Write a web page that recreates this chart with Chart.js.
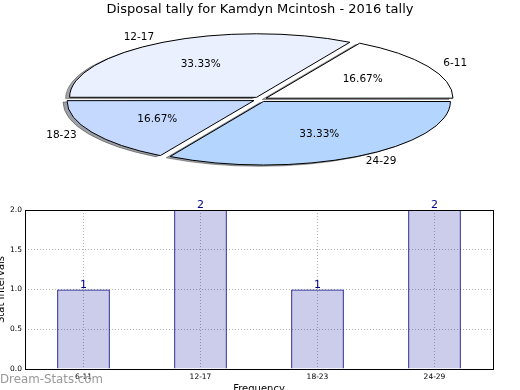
<!DOCTYPE html>
<html>
<head>
<meta charset="utf-8">
<script src="https://cdn.jsdelivr.net/npm/chart.js@4"></script>
<style>
  html, body { margin: 0; padding: 0; background: #fff; }
  body { width: 520px; height: 390px; position: relative; overflow: hidden; }
  #pieChart { position: absolute; left: 0; top: 0; }
  #barChart { position: absolute; left: -10px; top: 195px; }
  #mark { position: absolute; left: 0; top: 372px; font: 11.8px 'DejaVu Sans'; color: #999; }
</style>
</head>
<body>
<canvas id="pieChart" width="520" height="390"></canvas>
<canvas id="barChart" width="530" height="200"></canvas>
<div id="mark">Dream-Stats.com</div>
<script>
const titleText = 'Disposal tally for Kamdyn Mcintosh - 2016 tally';
const categories = ['6-11', '12-17', '18-23', '24-29'];
const tally = [1, 2, 1, 2];
const sliceColors = ['#ffffff', '#eaf0fe', '#c5d9fe', '#b4d5fe'];
const yTicks = [0, 0.5, 1, 1.5, 2];

const TILT = 0.34;
Chart.defaults.font.family = 'DejaVu Sans';
Chart.defaults.color = '#000';

// chart.js goes clockwise, matplotlib counter-clockwise -> reverse the order
const pieLabels = categories.slice().reverse();
const pieValues = tally.slice().reverse();
const pieColors = sliceColors.slice().reverse();
const total = tally.reduce((a, b) => a + b, 0);

function tilt(ctx, arc) {
  ctx.translate(arc.x, arc.y);
  ctx.scale(1, TILT);
  ctx.translate(-arc.x, -arc.y);
}

const ellipsePie = {
  id: 'ellipsePie',
  beforeDatasetsDraw(chart) {
    const ctx = chart.ctx;
    const arcs = chart.getDatasetMeta(0).data;
    // shadow pass
    ctx.save();
    ctx.translate(-4, 1.3);
    tilt(ctx, arcs[0]);
    ctx.filter = 'brightness(0.3) opacity(0.5)';
    arcs.forEach(a => a.draw(ctx));
    ctx.restore();
    // squash the real pie, keep stroke width unscaled
    ctx.save();
    tilt(ctx, arcs[0]);
    const orig = CanvasRenderingContext2D.prototype.stroke;
    ctx.stroke = function () {
      this.save();
      this.setTransform(1, 0, 0, 1, 0, 0);
      orig.call(this);
      this.restore();
    };
  },
  afterDatasetsDraw(chart) {
    const ctx = chart.ctx;
    delete ctx.stroke;
    ctx.restore();
    const meta = chart.getDatasetMeta(0);
    ctx.save();
    ctx.font = '10.5px DejaVu Sans';
    ctx.fillStyle = '#000';
    ctx.textBaseline = 'middle';
    meta.data.forEach((arc, i) => {
      const mid = (arc.startAngle + arc.endAngle) / 2;
      const d = arc.options.offset / 4;
      const r = arc.outerRadius;
      const px = f => arc.x + Math.cos(mid) * (r * f + d);
      const py = f => arc.y + Math.sin(mid) * (r * f + d) * TILT;
      ctx.textAlign = 'center';
      ctx.fillText((pieValues[i] / total * 100).toFixed(2) + '%', px(0.6), py(0.6));
      ctx.textAlign = Math.cos(mid) > 0 ? 'left' : 'right';
      ctx.fillText(pieLabels[i], px(1.1), py(1.1));
    });
    ctx.restore();
  }
};

new Chart(document.getElementById('pieChart'), {
  type: 'pie',
  data: {
    labels: pieLabels,
    datasets: [{
      data: pieValues,
      backgroundColor: pieColors,
      borderColor: '#000',
      borderWidth: 1,
      offset: 28
    }]
  },
  options: {
    responsive: false,
    animation: false,
    rotation: 90,
    radius: 186,
    layout: { padding: { top: 0, bottom: 208.8 } },
    plugins: {
      legend: { display: false },
      tooltip: { enabled: false },
      title: {
        display: true,
        text: titleText,
        color: '#000',
        font: { size: 13, weight: 'normal' },
        padding: { top: 2, bottom: 0 }
      }
    }
  },
  plugins: [ellipsePie]
});

const barExtras = {
  id: 'barExtras',
  afterDatasetsDraw(chart) {
    const ctx = chart.ctx;
    const a = chart.chartArea;
    ctx.save();
    ctx.font = '11px DejaVu Sans';
    ctx.fillStyle = '#00008b';
    ctx.textAlign = 'center';
    ctx.textBaseline = 'bottom';
    chart.getDatasetMeta(0).data.forEach((bar, i) => {
      ctx.fillText(String(tally[i]), bar.x, bar.y + 1);
    });
    ctx.strokeStyle = '#000';
    ctx.lineWidth = 1;
    ctx.strokeRect(Math.round(a.left) + 0.5, Math.round(a.top) + 0.5,
      Math.round(a.right - a.left), Math.round(a.bottom - a.top));
    ctx.restore();
  }
};

new Chart(document.getElementById('barChart'), {
  type: 'bar',
  data: {
    labels: categories,
    datasets: [{
      data: tally,
      backgroundColor: 'rgba(0,0,153,0.2)',
      borderColor: '#000080',
      borderWidth: 1,
      barPercentage: 0.45,
      categoryPercentage: 1
    }]
  },
  options: {
    responsive: false,
    animation: false,
    layout: { padding: { left: 0, right: 27, top: 15, bottom: 0 } },
    plugins: { legend: { display: false }, tooltip: { enabled: false } },
    scales: {
      x: {
        offset: true,
        grid: { offset: false, drawTicks: false, color: 'rgba(0,0,0,0.3)' },
        border: { display: false, dash: [1, 2] },
        ticks: { font: { size: 7.5 }, padding: 4, maxRotation: 0 },
        title: { display: true, text: 'Frequency', font: { size: 10 }, padding: 0 },
        afterFit: s => { s.height = 26; }
      },
      y: {
        min: 0,
        max: 2,
        afterBuildTicks: s => { s.ticks = yTicks.map(v => ({ value: v })); },
        grid: { drawTicks: false, color: 'rgba(0,0,0,0.3)' },
        border: { display: false, dash: [1, 2] },
        ticks: { font: { size: 7.5 }, padding: 3, callback: v => v.toFixed(1) },
        title: { display: true, text: 'Stat Intervals', font: { size: 10 }, padding: { top: 5, bottom: 0 } },
        afterFit: s => { s.width = 35; }
      }
    }
  },
  plugins: [barExtras]
});
</script>
</body>
</html>
